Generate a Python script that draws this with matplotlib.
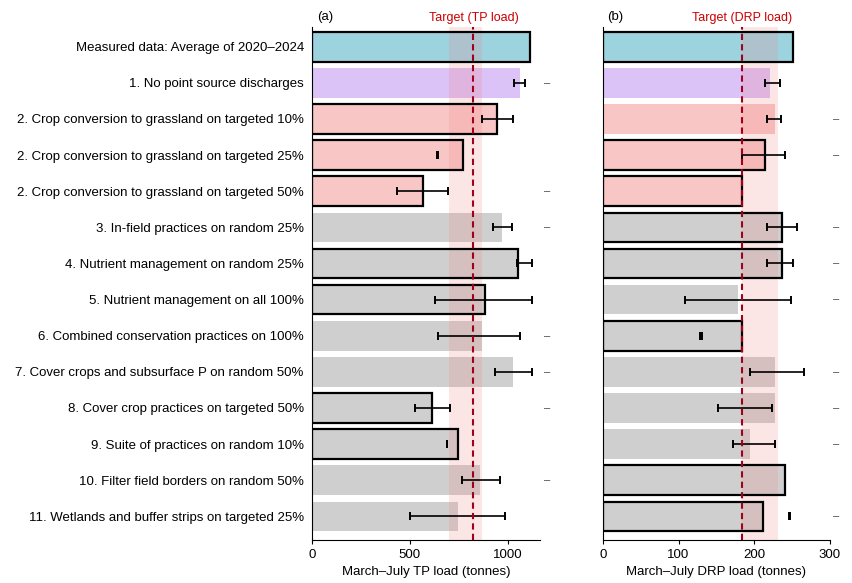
import numpy as np
import matplotlib
matplotlib.use("Agg")
import matplotlib.pyplot as plt
import matplotlib.transforms as mtransforms

plt.rcParams['font.family'] = ['Liberation Sans', 'DejaVu Sans']

scenarios = [
    "Measured data: Average of 2020\u20132024",
    "1. No point source discharges",
    "2. Crop conversion to grassland on targeted 10%",
    "2. Crop conversion to grassland on targeted 25%",
    "2. Crop conversion to grassland on targeted 50%",
    "3. In-field practices on random 25%",
    "4. Nutrient management on random 25%",
    "5. Nutrient management on all 100%",
    "6. Combined conservation practices on 100%",
    "7. Cover crops and subsurface P on random 50%",
    "8. Cover crop practices on targeted 50%",
    "9. Suite of practices on random 10%",
    "10. Filter field borders on random 50%",
    "11. Wetlands and buffer strips on targeted 25%",
]
group = ["measured", "point", "convert", "convert", "convert"] + ["practice"] * 9

# TP load (tonnes)
tp_mean = [1112, 1061, 944, 772, 566, 969, 1051, 883, 867, 1026, 612, 745, 857, 745]
tp_lo = [np.nan, 1030, 870, 640, 432, 923, 1050, 628, 643, 934, 526, 689, 765, 500]
tp_hi = [np.nan, 1090, 1025, 645, 694, 1020, 1122, 1122, 1061, 1122, 704, 692, 959, 985]
tp_outline = [1112, np.nan, 944, 772, 566, np.nan, 1051, 883, np.nan, np.nan, 612, 745, np.nan, np.nan]
tp_target = 825
tp_band = (700, 870)
tp_flags = [1, 4, 5, 8, 9, 10, 12]

# DRP load (tonnes)
drp_mean = [252, 221, 228, 214, 184, 237, 237, 179, 184, 228, 228, 195, 241, 212]
drp_lo = [np.nan, 215, 217, 184, np.nan, 217, 217, 109, 128, 195, 152, 172, np.nan, 246]
drp_hi = [np.nan, 234, 236, 241, np.nan, 257, 252, 249, 131, 266, 224, 228, np.nan, 248]
drp_outline = [252, np.nan, np.nan, 214, 184, 237, 237, np.nan, 184, np.nan, np.nan, np.nan, 241, 212]
drp_target = 184
drp_band = (184, 232)
drp_flags = [2, 3, 5, 6, 7, 9, 10, 11, 13]

colors = {"measured": "#9dd3df", "point": "#dcc3f7",
          "convert": "#f9c6c6", "practice": "#cfcfcf"}

fig = plt.figure(figsize=(8.53, 5.83), dpi=100)
ax1 = fig.add_axes([0.366, 0.074, 0.267, 0.88])
ax2 = fig.add_axes([0.707, 0.074, 0.2655, 0.88])


def draw_panel(ax, mean, lo, hi, outline, target, band, flags, xmax, ticks,
               xlabel, tag, target_text):
    y = np.arange(len(scenarios))
    ax.barh(y, mean, height=0.82, color=[colors[g] for g in group], zorder=1)
    out = np.array(outline, dtype=float)
    m = ~np.isnan(out)
    ax.barh(y[m], out[m], height=0.82, fill=False, edgecolor="black",
            linewidth=1.6, zorder=3)
    ax.axvspan(band[0], band[1], color="#f08080", alpha=0.2, lw=0, zorder=2)
    lo = np.array(lo, dtype=float)
    hi = np.array(hi, dtype=float)
    e = ~np.isnan(lo)
    mid = (lo[e] + hi[e]) / 2
    ax.errorbar(mid, y[e], xerr=[mid - lo[e], hi[e] - mid], fmt="none",
                ecolor="black", elinewidth=1.2, capsize=3, capthick=1.4,
                zorder=4)
    ax.axvline(target, color="#a0001a", ls=(0, (3, 2)), lw=1.5, zorder=5)
    trans = mtransforms.blended_transform_factory(ax.transAxes, ax.transData)
    for r in flags:
        ax.text(1.03, r, "\u2013", transform=trans, ha="center", va="center",
                fontsize=8, color="#444444", clip_on=False)
    ax.set_xlim(0, xmax)
    ax.set_ylim(13.65, -0.55)
    ax.set_xticks(ticks)
    ax.tick_params(axis="x", labelsize=9.5, length=3)
    ax.set_xlabel(xlabel, fontsize=9.5, labelpad=4)
    for s in ["top", "right"]:
        ax.spines[s].set_visible(False)
    ax.text(0.02, 1.008, tag, transform=ax.transAxes, fontsize=9.5,
            ha="left", va="bottom")
    ax.text(target, -0.62, target_text, color="#cc0000", fontsize=9,
            ha="center", va="bottom")


draw_panel(ax1, tp_mean, tp_lo, tp_hi, tp_outline, tp_target, tp_band,
           tp_flags, 1165, [0, 500, 1000], "March\u2013July TP load (tonnes)",
           "(a)", "Target (TP load)")
draw_panel(ax2, drp_mean, drp_lo, drp_hi, drp_outline, drp_target, drp_band,
           drp_flags, 300, [0, 100, 200, 300],
           "March\u2013July DRP load (tonnes)", "(b)", "Target (DRP load)")

ax1.set_yticks(np.arange(len(scenarios)))
ax1.set_yticklabels(scenarios, fontsize=9.5)
ax1.tick_params(axis="y", length=0, pad=6)
ax2.set_yticks([])

fig.savefig("out.png", dpi=100)
